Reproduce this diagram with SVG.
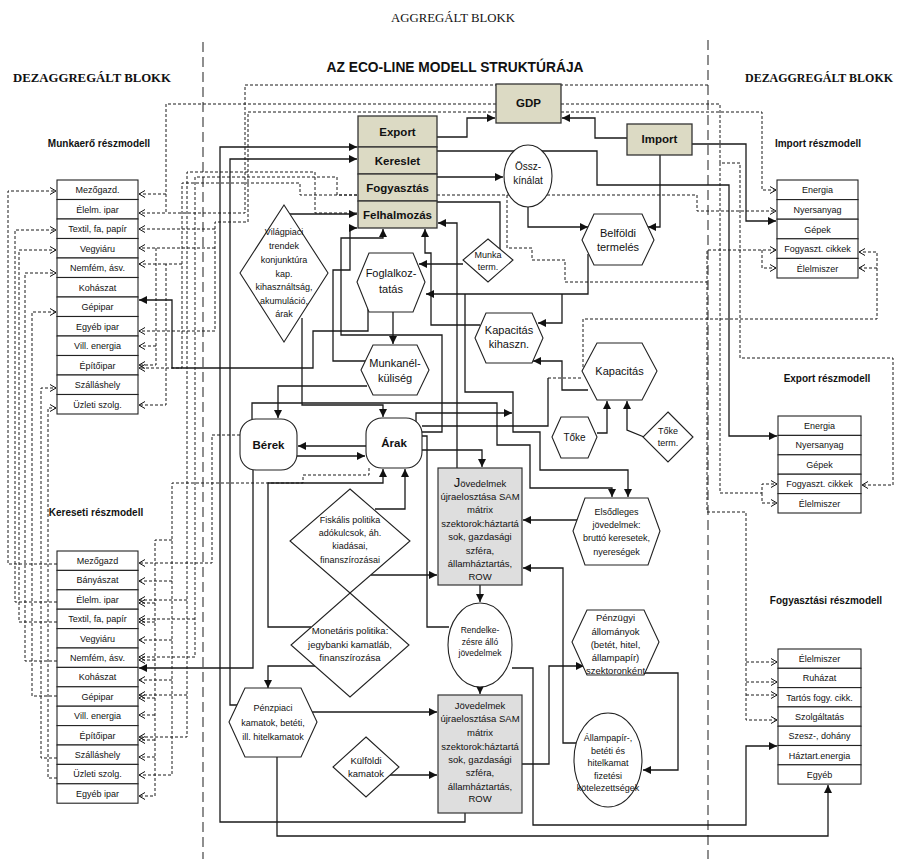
<svg xmlns="http://www.w3.org/2000/svg" width="906" height="859" viewBox="0 0 906 859">
<defs>
<marker id="a" markerWidth="9" markerHeight="8" refX="8" refY="4" orient="auto" markerUnits="userSpaceOnUse"><path d="M0,0 L8,4 L0,8 z" fill="#111"/></marker>
<marker id="o" markerWidth="8" markerHeight="8" refX="6" refY="4" orient="auto" markerUnits="userSpaceOnUse"><path d="M0,0.5 L6,4 L0,7.5" fill="none" stroke="#111" stroke-width="1"/></marker>
<style>
.s{fill:none;stroke:#1a1a1a;stroke-width:1.3}
.d{fill:none;stroke:#1a1a1a;stroke-width:1;stroke-dasharray:3 2}
.div{fill:none;stroke:#333;stroke-width:1.1;stroke-dasharray:10 5}
.sa{marker-end:url(#a)}
.da{marker-end:url(#o)}
.n{fill:#fff;stroke:#222;stroke-width:1.1}
.k{fill:#dcdac4;stroke:#333;stroke-width:1.3}
.g{fill:#dedede;stroke:#333;stroke-width:1.2}
text{font-family:"Liberation Sans",Arial,sans-serif;fill:#111;text-anchor:middle}
.r{font-size:9px}
.h{font-size:10px;font-weight:bold}
.b{font-size:11.5px;font-weight:bold}
.m{font-size:11px}
.t10{font-size:10px}
.t9{font-size:9px}
.t95{font-size:9.5px}
.ser{font-family:"Liberation Serif","Times New Roman",serif}
.ttl{font-size:14px;font-weight:bold}
</style>
</defs>

<g id="headers">
<text class="ser" x="453" y="22" font-size="13" textLength="124" lengthAdjust="spacingAndGlyphs">AGGREGÁLT BLOKK</text>
<text class="ser" x="92" y="82" font-size="13" font-weight="bold" textLength="158" lengthAdjust="spacingAndGlyphs">DEZAGGREGÁLT BLOKK</text>
<text class="ser" x="819" y="82" font-size="12.5" font-weight="bold" textLength="148" lengthAdjust="spacingAndGlyphs">DEZAGGREGÁLT BLOKK</text>
<text class="ttl" x="455" y="72" textLength="257" lengthAdjust="spacingAndGlyphs">AZ ECO-LINE MODELL STRUKTÚRÁJA</text>
<text class="h" x="99" y="147">Munkaerő részmodell</text>
<text class="h" x="96" y="516">Kereseti részmodell</text>
<text class="h" x="818" y="147">Import részmodell</text>
<text class="h" x="827" y="382">Export részmodell</text>
<text class="h" x="826" y="604">Fogyasztási részmodell</text>
</g>

<g id="dividers">
<line class="div" x1="203" y1="42" x2="203" y2="859"/>
<line class="div" x1="708" y1="40" x2="708" y2="859"/>
</g>

<g id="connectors">
<path class="s sa" d="M437,137 H467 V118 H495"/>
<path class="s sa" d="M627,138 H595 V118 H562"/>
<path class="s sa" d="M660,155 V227 H648"/>
<path class="s sa" d="M692,144 H746 V221 H776"/>
<path class="s sa" d="M437,151 H597 V185 H729 V436 H777"/>
<path class="s sa" d="M437,177 H503"/>
<path class="s sa" d="M528,207 V227 H588"/>
<path class="s sa" d="M588,254 V294 H426"/>
<path class="s sa" d="M562,294 V323 H538"/>
<path class="s sa" d="M463,264 H419"/>
<path class="s sa" d="M393,312 V344"/>
<path class="s sa" d="M367,386 H278 V418"/>
<path class="s sa" d="M302,318 V405 H383 V417"/>
<path class="s sa" d="M366,446 H298"/>
<path class="s sa" d="M297,456 H365"/>
<path class="s sa" d="M290,214 H357"/>
<path class="s sa" d="M457,468 V223 H438"/>
<path class="s sa" d="M480,325 H431 V253 H425 V229"/>
<path class="s sa" d="M365,361 H333 V270 H350 V228 H357"/>
<path class="s sa" d="M368,309 V331 H313 V368 H172 V300 H139"/>
<path class="s sa" d="M422,432 H442 V335 H341 V238 H383 V229"/>
<path class="s sa" d="M416,423 V413 H512"/>
<path class="s" d="M422,426 H548 V378"/>
<path class="d" d="M548,378 H583"/>
<path class="s sa" d="M422,450 H482 V467"/>
<path class="s sa" d="M252,419 V403 H497 V445 H530 V488 H612 V497"/>
<path class="s sa" d="M465,294 V392 H513 V432 H540 V470 H628 V497"/>
<path class="s sa" d="M588,390 H562 V361 H533"/>
<path class="s sa" d="M597,433 H607 V401"/>
<path class="s sa" d="M644,437 L627,430 V401"/>
<path class="s sa" d="M578,520 H523"/>
<path class="s sa" d="M371,575 H437"/>
<path class="s sa" d="M480,585 V602"/>
<path class="s sa" d="M480,687 V694"/>
<path class="s sa" d="M308,712 H437"/>
<path class="s sa" d="M385,775 H437"/>
<path class="s sa" d="M522,764 H549 V666 H584"/>
<path class="s sa" d="M643,673 H678 V770 H643"/>
<path class="s sa" d="M576,743 H563 V568 H523"/>
<path class="s sa" d="M512,668 H533 V825 H746 V746 H777"/>
<path class="s sa" d="M277,757 V836 H828 V785"/>
<path class="s sa" d="M465,813 V822 H220 V147 H357"/>
<path class="s sa" d="M245,705 H230 V159 H357"/>
<path class="s sa" d="M253,470 V668 H139"/>
<path class="s sa" d="M375,509 H405 V469"/>
<path class="s sa" d="M311,627 H268 V483 H383 V469"/>
<path class="s sa" d="M315,666 H268 V688"/>
<path class="s" d="M437,202 H500 V249"/>
<path class="s" d="M422,436 H427 V627 H449"/>

<path class="d da" d="M496,104 H166 V213 H139"/>
<path class="d da" d="M166,194 H139"/>
<path class="d" d="M708,85 H245 V213 H166"/>
<path class="d da" d="M496,112 H248 V222 H215 V331 H139"/>
<path class="d da" d="M215,229 H139"/>
<path class="d da" d="M215,248 H139"/>
<path class="d da" d="M156,248 V365 H139"/>
<path class="d da" d="M156,346 H139"/>
<path class="d da" d="M362,213 H315 V172 H187 V737 H139"/>
<path class="d da" d="M187,600 H139"/>
<path class="d da" d="M187,695 H139"/>
<path class="d da" d="M437,195 H337 V177 H195 V657 H139"/>
<path class="d da" d="M195,619 H139"/>
<path class="d da" d="M362,195 H300 V183 H182 V368 H139"/>
<path class="d da" d="M182,264 H166 V405 H139"/>
<path class="d da" d="M166,264 H139"/>
<path class="d da" d="M240,435 H212 V563 H139"/>
<path class="d da" d="M369,468 V475 H303 V483 H172 V775 H139"/>
<path class="d da" d="M172,581 H139"/>
<path class="d da" d="M172,640 H139"/>
<path class="d da" d="M172,680 H139"/>
<path class="d da" d="M172,540 H155 V796 H139"/>
<path class="d da" d="M155,603 H139"/>
<path class="d da" d="M155,622 H139"/>
<path class="d da" d="M155,660 H139"/>
<path class="d da" d="M155,698 H139"/>
<path class="d da" d="M155,715 H139"/>
<path class="d da" d="M155,740 H139"/>
<path class="d da" d="M155,757 H139"/>
<path class="d da" d="M57,564 H8 V191 H56"/>
<path class="d da" d="M57,602 H15 V230 H56"/>
<path class="d da" d="M57,622 H19 V250 H56"/>
<path class="d da" d="M57,661 H25 V273 H56"/>
<path class="d da" d="M57,696 H32 V312 H56"/>
<path class="d da" d="M57,758 H41 V388 H56"/>
<path class="d da" d="M57,778 H48 V408 H56"/>
<path class="d da" d="M561,112 H762 V190 H776"/>
<path class="d da" d="M561,104 H720 V163 H740 V358 H893 V485 H862"/>
<path class="d da" d="M720,163 V493 H762 V484 H777"/>
<path class="d da" d="M762,493 V503 H777"/>
<path class="d da" d="M437,195 H697 V211 H776"/>
<path class="d da" d="M507,195 V248 H532 V260 H565 V282 H707 V250 H776"/>
<path class="d da" d="M762,250 V268 H776"/>
<path class="d da" d="M707,282 V512 H746 V720 H777"/>
<path class="d da" d="M746,662 H777"/>
<path class="d da" d="M746,682 H777"/>
<path class="d da" d="M746,695 H777"/>
<path class="d da" d="M583,372 V319 H877 V252 H859"/>
<path class="d da" d="M877,268 H859"/>
</g>

<g id="munkaero">
<rect class="n" x="57" y="180" width="81" height="19.5"/><text class="r" x="97.5" y="193">Mezőgazd.</text>
<rect class="n" x="57" y="199.5" width="81" height="19.5"/><text class="r" x="97.5" y="212.5">Élelm. ipar</text>
<rect class="n" x="57" y="219" width="81" height="19.5"/><text class="r" x="97.5" y="232">Textil, fa, papír</text>
<rect class="n" x="57" y="238.5" width="81" height="19.5"/><text class="r" x="97.5" y="251.5">Vegyiáru</text>
<rect class="n" x="57" y="258" width="81" height="19.5"/><text class="r" x="97.5" y="271">Nemfém, ásv.</text>
<rect class="n" x="57" y="277.5" width="81" height="19.5"/><text class="r" x="97.5" y="290.5">Kohászat</text>
<rect class="n" x="57" y="297" width="81" height="19.5"/><text class="r" x="97.5" y="310">Gépipar</text>
<rect class="n" x="57" y="316.5" width="81" height="19.5"/><text class="r" x="97.5" y="329.5">Egyéb ipar</text>
<rect class="n" x="57" y="336" width="81" height="19.5"/><text class="r" x="97.5" y="349">Vill. energia</text>
<rect class="n" x="57" y="355.5" width="81" height="19.5"/><text class="r" x="97.5" y="368.5">Építőipar</text>
<rect class="n" x="57" y="375" width="81" height="19.5"/><text class="r" x="97.5" y="388">Szálláshely</text>
<rect class="n" x="57" y="394.5" width="81" height="19.5"/><text class="r" x="97.5" y="407.5">Üzleti szolg.</text>
</g>

<g id="kereseti">
<rect class="n" x="57" y="551" width="81" height="19.4"/><text class="r" x="97.5" y="564">Mezőgazd</text>
<rect class="n" x="57" y="570.4" width="81" height="19.4"/><text class="r" x="97.5" y="583.4">Bányászat</text>
<rect class="n" x="57" y="589.8" width="81" height="19.4"/><text class="r" x="97.5" y="602.8">Élelm. ipar</text>
<rect class="n" x="57" y="609.2" width="81" height="19.4"/><text class="r" x="97.5" y="622.2">Textil, fa, papír</text>
<rect class="n" x="57" y="628.6" width="81" height="19.4"/><text class="r" x="97.5" y="641.6">Vegyiáru</text>
<rect class="n" x="57" y="648" width="81" height="19.4"/><text class="r" x="97.5" y="661">Nemfém, ásv.</text>
<rect class="n" x="57" y="667.4" width="81" height="19.4"/><text class="r" x="97.5" y="680.4">Kohászat</text>
<rect class="n" x="57" y="686.8" width="81" height="19.4"/><text class="r" x="97.5" y="699.8">Gépipar</text>
<rect class="n" x="57" y="706.2" width="81" height="19.4"/><text class="r" x="97.5" y="719.2">Vill. energia</text>
<rect class="n" x="57" y="725.6" width="81" height="19.4"/><text class="r" x="97.5" y="738.6">Építőipar</text>
<rect class="n" x="57" y="745" width="81" height="19.4"/><text class="r" x="97.5" y="758">Szálláshely</text>
<rect class="n" x="57" y="764.4" width="81" height="19.4"/><text class="r" x="97.5" y="777.4">Üzleti szolg.</text>
<rect class="n" x="57" y="783.8" width="81" height="19.4"/><text class="r" x="97.5" y="796.8">Egyéb ipar</text>
</g>

<g id="import-reszmodell">
<rect class="n" x="777" y="180" width="81" height="19.6"/><text class="r" x="817.5" y="193.3">Energia</text>
<rect class="n" x="777" y="199.6" width="81" height="19.6"/><text class="r" x="817.5" y="212.9">Nyersanyag</text>
<rect class="n" x="777" y="219.2" width="81" height="19.6"/><text class="r" x="817.5" y="232.5">Gépek</text>
<rect class="n" x="777" y="238.8" width="81" height="19.6"/><text class="r" x="817.5" y="252.1">Fogyaszt. cikkek</text>
<rect class="n" x="777" y="258.4" width="81" height="19.6"/><text class="r" x="817.5" y="271.7">Élelmiszer</text>
</g>

<g id="export-reszmodell">
<rect class="n" x="778" y="416" width="83" height="19.4"/><text class="r" x="819.5" y="429">Energia</text>
<rect class="n" x="778" y="435.4" width="83" height="19.4"/><text class="r" x="819.5" y="448.4">Nyersanyag</text>
<rect class="n" x="778" y="454.8" width="83" height="19.4"/><text class="r" x="819.5" y="467.8">Gépek</text>
<rect class="n" x="778" y="474.2" width="83" height="19.4"/><text class="r" x="819.5" y="487.2">Fogyaszt. cikkek</text>
<rect class="n" x="778" y="493.6" width="83" height="19.4"/><text class="r" x="819.5" y="506.6">Élelmiszer</text>
</g>

<g id="fogyasztasi-reszmodell">
<rect class="n" x="778" y="649" width="83" height="19.3"/><text class="r" x="819.5" y="662">Élelmiszer</text>
<rect class="n" x="778" y="668.3" width="83" height="19.3"/><text class="r" x="819.5" y="681.3">Ruházat</text>
<rect class="n" x="778" y="687.6" width="83" height="19.3"/><text class="r" x="819.5" y="700.6">Tartós fogy. cikk.</text>
<rect class="n" x="778" y="706.9" width="83" height="19.3"/><text class="r" x="819.5" y="719.9">Szolgáltatás</text>
<rect class="n" x="778" y="726.2" width="83" height="19.3"/><text class="r" x="819.5" y="739.2">Szesz-, dohány</text>
<rect class="n" x="778" y="745.5" width="83" height="19.3"/><text class="r" x="819.5" y="758.5">Háztart.energia</text>
<rect class="n" x="778" y="764.8" width="83" height="19.3"/><text class="r" x="819.5" y="777.8">Egyéb</text>
</g>

<g id="n-export"><rect class="k" x="358" y="116" width="79" height="31"/><text class="b" x="397.5" y="136">Export</text></g>
<g id="n-kereslet"><rect class="k" x="358" y="147" width="79" height="27"/><text class="b" x="397.5" y="165">Kereslet</text></g>
<g id="n-fogyasztas"><rect class="k" x="358" y="174" width="79" height="27"/><text class="b" x="397.5" y="192">Fogyasztás</text></g>
<g id="n-felhalmozas"><rect class="k" x="358" y="201" width="79" height="27"/><text class="b" x="397.5" y="219">Felhalmozás</text></g>
<g id="n-gdp"><rect class="k" x="496" y="84" width="65" height="39"/><text class="b" x="528.5" y="107">GDP</text></g>
<g id="n-import"><rect class="k" x="627" y="124" width="65" height="31"/><text class="b" x="659.5" y="143">Import</text></g>

<g id="n-osszkinalat"><ellipse class="n" cx="528" cy="176" rx="24" ry="31"/><text class="t10" x="528" y="170">Össz-</text><text class="t10" x="528" y="184">kínálat</text></g>
<g id="n-belfoldi"><polygon class="n" points="582,240 594,214 642,214 654,240 642,265 594,265"/><text class="m" x="618" y="237">Belföldi</text><text class="m" x="618" y="251">termelés</text></g>
<g id="n-munkaterm"><polygon class="n" points="488,239 513,260 488,282 463,260"/><text class="t9" x="488" y="258">Munka</text><text class="t9" x="488" y="270">term.</text></g>
<g id="n-vilagpiaci"><polygon class="n" points="284,205 328,273 284,342 240,273"/>
<text class="t9" x="284" y="235">Világpiaci</text><text class="t9" x="284" y="249">trendek</text><text class="t9" x="284" y="263">konjunktúra</text><text class="t9" x="284" y="277">kap.</text><text class="t9" x="284" y="290">kihasználtság,</text><text class="t9" x="284" y="304">akumuláció,</text><text class="t9" x="284" y="317">árak</text></g>
<g id="n-foglalkoztatas"><polygon class="n" points="357,282 369,253 413,253 425,282 413,312 369,312"/><text class="m" x="391" y="277">Foglalkoz-</text><text class="m" x="391" y="293">tatás</text></g>
<g id="n-munkanelkuliseg"><polygon class="n" points="361,370 373,345 417,345 429,370 417,395 373,395"/><text class="m" x="395" y="367">Munkanél-</text><text class="m" x="395" y="382">küliség</text></g>
<g id="n-kapkihaszn"><polygon class="n" points="475,338 486,313 532,313 543,338 532,363 486,363"/><text class="m" x="509" y="334">Kapacitás</text><text class="m" x="509" y="348">kihaszn.</text></g>
<g id="n-kapacitas"><polygon class="n" points="582,371 597,343 642,343 657,371 642,400 597,400"/><text class="m" x="619.5" y="375">Kapacitás</text></g>
<g id="n-toke"><polygon class="n" points="552,437 561,417 588,417 597,437 588,458 561,458"/><text class="t10" x="574.5" y="441">Tőke</text></g>
<g id="n-toketerm"><polygon class="n" points="668,412 693,437 668,462 643,437"/><text class="t9" x="668" y="434">Tőke</text><text class="t9" x="668" y="446">term.</text></g>
<g id="n-berek"><rect class="n" x="240" y="419" width="57" height="51" rx="16"/><text class="b" x="268.5" y="449">Bérek</text></g>
<g id="n-arak"><rect class="n" x="366" y="418" width="56" height="50" rx="16"/><text class="b" x="394" y="447">Árak</text></g>

<g id="n-jovedelmek1"><rect class="g" x="438" y="468" width="84" height="117"/>
<text class="t95" x="480" y="487"><tspan font-size="13">J</tspan>övedelmek</text><text class="t95" x="480" y="500">újraelosztása SAM</text><text class="t95" x="480" y="513">mátrix</text><text class="t95" x="480" y="527">szektorok:háztartá</text><text class="t95" x="480" y="540">sok, gazdasági</text><text class="t95" x="480" y="554">szféra,</text><text class="t95" x="480" y="567">államháztartás,</text><text class="t95" x="480" y="580">ROW</text></g>
<g id="n-jovedelmek2"><rect class="g" x="438" y="695" width="84" height="118"/>
<text class="t95" x="480" y="709">Jövedelmek</text><text class="t95" x="480" y="722">újraelosztása SAM</text><text class="t95" x="480" y="736">mátrix</text><text class="t95" x="480" y="750">szektorok:háztartá</text><text class="t95" x="480" y="763">sok, gazdasági</text><text class="t95" x="480" y="776">szféra,</text><text class="t95" x="480" y="790">államháztartás,</text><text class="t95" x="480" y="802">ROW</text></g>

<g id="n-elsodleges"><polygon class="n" points="573,531 585,498 648,498 660,531 648,565 585,565"/><text class="t9" x="616.5" y="515">Elsődleges</text><text class="t9" x="616.5" y="528">jövedelmek:</text><text class="t9" x="616.5" y="541">bruttó keresetek,</text><text class="t9" x="616.5" y="555">nyereségek</text></g>
<g id="n-fiskalis"><polygon class="n" points="350,489 410,541 350,593 290,541"/><text class="t9" x="350" y="523">Fiskális politika</text><text class="t9" x="350" y="536">adókulcsok, áh.</text><text class="t9" x="350" y="549">kiadásai,</text><text class="t9" x="350" y="563">finanszírozásai</text></g>
<g id="n-rendelkezesre"><ellipse class="n" cx="480" cy="645" rx="32" ry="42"/><text x="480" y="633" font-size="8.5">Rendelke-</text><text x="480" y="645" font-size="8.5">zésre álló</text><text x="480" y="656" font-size="8.5">jövedelmek</text></g>
<g id="n-penzugyi"><polygon class="n" points="572,642 587,610 644,610 659,642 644,675 587,675"/><text class="t95" x="615.5" y="621">Pénzügyi</text><text class="t95" x="615.5" y="635">állományok</text><text class="t95" x="615.5" y="648">(betét, hitel,</text><text class="t95" x="615.5" y="661">állampapír)</text><text class="t95" x="615.5" y="674">szektoronként</text></g>
<g id="n-monetaris"><polygon class="n" points="350,593 409,645 350,697 291,645"/><text class="t95" x="350" y="634">Monetáris politika:</text><text class="t95" x="350" y="648">jegybanki kamatláb,</text><text class="t95" x="350" y="661">finanszírozása</text></g>
<g id="n-penzpiaci"><polygon class="n" points="229,722 245,688 301,688 317,722 301,757 245,757"/><text class="t9" x="273" y="711">Pénzpiaci</text><text class="t9" x="273" y="726">kamatok, betéti,</text><text class="t9" x="273" y="740">ill. hitelkamatok</text></g>
<g id="n-kulfoldi"><polygon class="n" points="366,737 399,767 366,797 333,767"/><text class="t95" x="366" y="764">Külföldi</text><text class="t95" x="366" y="777">kamatok</text></g>
<g id="n-allampapir"><ellipse class="n" cx="608" cy="760" rx="34" ry="47"/><text class="t9" x="608" y="741">Állampapír-,</text><text class="t9" x="608" y="754">betéti és</text><text class="t9" x="608" y="766">hitelkamat</text><text class="t9" x="608" y="779">fizetési</text><text class="t9" x="608" y="791">kötelezettségek</text></g>
</svg>
